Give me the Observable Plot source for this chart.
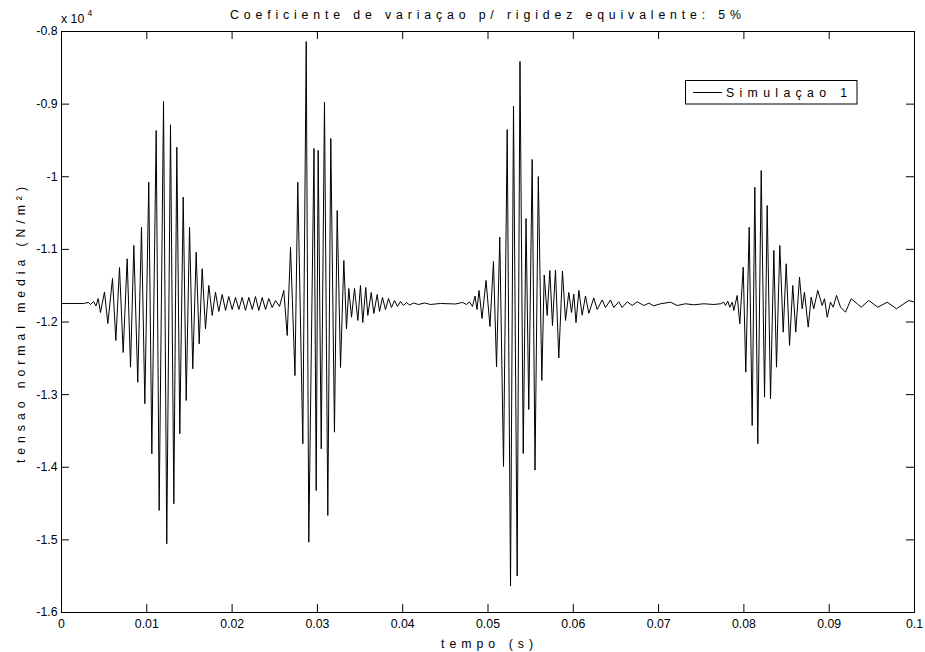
<!DOCTYPE html>
<html>
<head>
<meta charset="utf-8">
<script src="https://cdn.jsdelivr.net/npm/d3@7"></script>
<script src="https://cdn.jsdelivr.net/npm/@observablehq/plot@0.6"></script>
<style>
  html, body { margin: 0; padding: 0; background: white; }
  #chart { width: 925px; height: 652px; }
</style>
</head>
<body>
<div id="chart"></div>
<script>
// ---- axis ticks ----
const xTicks = [0, 0.01, 0.02, 0.03, 0.04, 0.05, 0.06, 0.07, 0.08, 0.09, 0.1];
const yTicks = [-1.6, -1.5, -1.4, -1.3, -1.2, -1.1, -1, -0.9, -0.8];

// ---- texts ----
const titleText = "Coeficiente de variaçao p/ rigidez equivalente: 5%";
const xLabel = "tempo (s)";
const yLabel = "tensao normal media (N/m²)";
const seriesName = "Simulaçao 1";

// ---- series "Simulaçao 1": time (s) and stress (x 10^4 N/m²), segment by segment ----
const burst1Time = [0, 0.00258, 0.00317, 0.00340, 0.00375, 0.00404, 0.00430, 0.00457, 0.00504, 0.00543,
  0.00598, 0.00637, 0.00680, 0.00723, 0.00770, 0.00809, 0.00848, 0.00894, 0.00938, 0.00977,
  0.01023, 0.01059, 0.01110, 0.01145, 0.01196, 0.01234, 0.01278, 0.01317, 0.01352, 0.01387,
  0.01427, 0.01462, 0.01501, 0.01539, 0.01579, 0.01614, 0.01649, 0.01688, 0.01727, 0.01767, 0.01805];
const burst1Stress = [-1.1745, -1.1745, -1.1731, -1.1759, -1.1718, -1.1780, -1.1676, -1.1869, -1.1587, -1.2021,
  -1.1401, -1.2255, -1.1250, -1.2420, -1.1130, -1.2622, -1.0947, -1.2829, -1.0695, -1.3126,
  -1.0075, -1.3815, -0.9363, -1.4595, -0.8964, -1.5054, -0.9285, -1.4503, -0.9593, -1.3539,
  -1.0282, -1.3081, -1.0695, -1.2644, -1.1039, -1.2300, -1.1267, -1.2094, -1.1497, -1.1910, -1.1590];

const quiet1Time = [0.01844, 0.01884, 0.01923, 0.01961, 0.02001, 0.02040, 0.02079, 0.02118, 0.02157, 0.02196,
  0.02236, 0.02274, 0.02313, 0.02353, 0.02392, 0.02430, 0.02470, 0.02509, 0.02556];
const quiet1Stress = [-1.1855, -1.1621, -1.1841, -1.1649, -1.1828, -1.1662, -1.1828, -1.1662, -1.1841, -1.1662,
  -1.1828, -1.1649, -1.1841, -1.1662, -1.1828, -1.1676, -1.1800, -1.1704, -1.1786];

const burst2Time = [0.02606, 0.02646, 0.02685, 0.02737, 0.02770, 0.02829, 0.02869, 0.02899, 0.02960, 0.02986,
  0.03009, 0.03045, 0.03083, 0.03122, 0.03157, 0.03200, 0.03232, 0.03271, 0.03310, 0.03341];
const burst2Stress = [-1.1566, -1.2186, -1.0970, -1.2737, -1.0075, -1.3677, -0.8138, -1.5032, -0.9611, -1.4320,
  -0.9638, -1.3746, -0.8973, -1.4664, -0.9473, -1.3517, -1.0465, -1.2626, -1.1153, -1.2094];

const quiet2Time = [0.03368, 0.03400, 0.03435, 0.03474, 0.03505, 0.03532, 0.03567, 0.03591, 0.03631, 0.03661,
  0.03701, 0.03728, 0.03763, 0.03798, 0.03834, 0.03869, 0.03904, 0.03939, 0.03974, 0.04009,
  0.04045, 0.04080, 0.04127, 0.04185, 0.04256, 0.04326, 0.04443, 0.04619, 0.04701];
const quiet2Stress = [-1.1539, -1.1934, -1.1539, -1.1979, -1.1497, -1.2007, -1.1525, -1.1910, -1.1594, -1.1883,
  -1.1621, -1.1855, -1.1662, -1.1828, -1.1676, -1.1800, -1.1704, -1.1786, -1.1718, -1.1773,
  -1.1731, -1.1766, -1.1738, -1.1759, -1.1738, -1.1759, -1.1745, -1.1752, -1.1731];

const burst3Time = [0.04748, 0.04783, 0.04818, 0.04848, 0.04871, 0.04895, 0.04930, 0.04977, 0.05023, 0.05064,
  0.05100, 0.05138, 0.05182, 0.05225, 0.05264, 0.05299, 0.05342, 0.05375, 0.05413, 0.05446,
  0.05478, 0.05518, 0.05551, 0.05590, 0.05631, 0.05659, 0.05694, 0.05725, 0.05756, 0.05791,
  0.05830, 0.05873, 0.05909, 0.05947];
const burst3Stress = [-1.1759, -1.1724, -1.1786, -1.1642, -1.1828, -1.1566, -1.1952, -1.1428, -1.2062, -1.1167,
  -1.2620, -1.0830, -1.3990, -0.9349, -1.5635, -0.9026, -1.5497, -0.8413, -1.3811, -1.0575,
  -1.3205, -0.9762, -1.4039, -0.9997, -1.2805, -1.1353, -1.1910, -1.1291, -1.2048, -1.1284,
  -1.2496, -1.1298, -1.1979, -1.1594];

const quiet3Time = [0.05979, 0.06006, 0.06032, 0.06065, 0.06104, 0.06143, 0.06182, 0.06240, 0.06280, 0.06339,
  0.06378, 0.06436, 0.06475, 0.06533, 0.06573, 0.06632, 0.06690, 0.06749,
  0.06827, 0.06885, 0.06944, 0.07022, 0.07140, 0.07218, 0.07315, 0.07413, 0.07530, 0.07647, 0.07726];
const quiet3Stress = [-1.1869, -1.1616, -1.2007, -1.1566, -1.1906, -1.1642, -1.1880, -1.1669, -1.1828, -1.1696,
  -1.1800, -1.1696, -1.1800, -1.1722, -1.1800, -1.1722, -1.1773, -1.1722,
  -1.1773, -1.1741, -1.1777, -1.1749, -1.1727, -1.1773, -1.1749, -1.1763, -1.1749, -1.1759, -1.1749];

const burst4Time = [0.07764, 0.07784, 0.07811, 0.07835, 0.07863, 0.07882, 0.07921, 0.07952, 0.07992, 0.08022,
  0.08062, 0.08097, 0.08128, 0.08163, 0.08203, 0.08242, 0.08273, 0.08312, 0.08351, 0.08382,
  0.08421, 0.08461, 0.08496, 0.08535, 0.08573, 0.08608, 0.08652, 0.08683, 0.08710, 0.08754,
  0.08789, 0.08819, 0.08866, 0.08918, 0.08945, 0.08977, 0.09015, 0.09047, 0.09086, 0.09133,
  0.09191, 0.09258, 0.09328, 0.09375, 0.09464, 0.09570, 0.09680, 0.09789, 0.09875, 0.09933, 0.1];
const burst4Stress = [-1.1727, -1.1773, -1.1714, -1.1796, -1.1727, -1.1841, -1.1635, -1.2025, -1.1245, -1.2691,
  -1.0695, -1.3425, -1.0144, -1.3677, -0.9914, -1.3035, -1.0396, -1.3057, -1.1015, -1.2622,
  -1.0947, -1.2140, -1.1199, -1.2323, -1.1497, -1.2140, -1.1383, -1.1818, -1.1590, -1.2071,
  -1.1658, -1.1818, -1.1566, -1.1773, -1.1680, -1.1934, -1.1727, -1.1796, -1.1635, -1.1796,
  -1.1865, -1.1680, -1.1749, -1.1796, -1.1704, -1.1796, -1.1727, -1.1818, -1.1749, -1.1704, -1.1727];

// ---- assemble table ----
const segments = [
  [burst1Time, burst1Stress], [quiet1Time, quiet1Stress],
  [burst2Time, burst2Stress], [quiet2Time, quiet2Stress],
  [burst3Time, burst3Stress], [quiet3Time, quiet3Stress],
  [burst4Time, burst4Stress]
];
const series = [];
for (const [ts, vs] of segments) {
  const n = Math.min(ts.length, vs.length);
  for (let i = 0; i < n; i++) series.push({t: ts[i], v: vs[i]});
}

const W = 925, H = 652;
const mL = 61, mR = 11, mT = 31, mB = 40;
const innerW = W - mL - mR, innerH = H - mT - mB;
const tickLen = 8;
const font = "'Liberation Sans', Arial, Helvetica, sans-serif";

const fmtX = d => String(+d.toFixed(2));
const fmtY = d => String(+d.toFixed(1));

const svg = Plot.plot({
  width: W,
  height: H,
  marginLeft: mL, marginRight: mR, marginTop: mT, marginBottom: mB,
  style: {fontFamily: font, fontSize: "12.3px", background: "white", color: "black", overflow: "visible"},
  x: {domain: [0, 0.1], axis: null},
  y: {domain: [-1.6, -0.8], axis: null},
  marks: [
    Plot.axisX(xTicks, {anchor: "bottom", tickSize: 0, tickPadding: 7, tickFormat: fmtX, label: null, fill: "black"}),
    Plot.axisY(yTicks, {anchor: "left", tickSize: 0, tickPadding: 4, tickFormat: fmtY, label: null, fill: "black"}),
    Plot.tickX(xTicks, {x: d => d, insetTop: innerH - tickLen, stroke: "black", strokeWidth: 1}),
    Plot.tickX(xTicks, {x: d => d, insetBottom: innerH - tickLen, stroke: "black", strokeWidth: 1}),
    Plot.tickY(yTicks, {y: d => d, insetRight: innerW - tickLen, stroke: "black", strokeWidth: 1}),
    Plot.tickY(yTicks, {y: d => d, insetLeft: innerW - tickLen, stroke: "black", strokeWidth: 1}),
    Plot.line(series, {x: "t", y: "v", stroke: "black", strokeWidth: 1}),
    Plot.frame({stroke: "black", strokeWidth: 1})
  ]
});

const s = d3.select(svg);
const g = s.append("g")
  .attr("font-family", font)
  .attr("fill", "black")
  .attr("text-anchor", "start")
  .style("text-anchor", "start");

// title
g.append("text")
  .attr("x", 230).attr("y", 19)
  .attr("text-anchor", "start")
  .attr("font-size", "12.3px")
  .attr("textLength", 511).attr("lengthAdjust", "spacing")
  .text(titleText);

// x label
g.append("text")
  .attr("x", 441).attr("y", 648)
  .attr("text-anchor", "start")
  .attr("font-size", "12.3px")
  .attr("textLength", 92).attr("lengthAdjust", "spacing")
  .text(xLabel);

// y label
g.append("text")
  .attr("transform", "translate(25,463) rotate(-90)")
  .attr("text-anchor", "start")
  .attr("font-size", "12.3px")
  .attr("textLength", 276).attr("lengthAdjust", "spacing")
  .text(yLabel);

// exponent
g.append("text").attr("x", 61).attr("y", 23).attr("text-anchor", "start")
  .attr("font-size", "12.3px").text("x 10");
g.append("text").attr("x", 87.5).attr("y", 16).attr("text-anchor", "start")
  .attr("font-size", "8.5px").text("4");

// legend
const leg = g.append("g");
leg.append("rect")
  .attr("x", 685.5).attr("y", 80.5).attr("width", 171.5).attr("height", 23.5)
  .attr("fill", "white").attr("stroke", "black").attr("stroke-width", 1);
leg.append("line")
  .attr("x1", 693).attr("x2", 722).attr("y1", 92.5).attr("y2", 92.5)
  .attr("stroke", "black").attr("stroke-width", 1);
leg.append("text")
  .attr("x", 726).attr("y", 96.5)
  .attr("text-anchor", "start")
  .attr("font-size", "12.3px")
  .attr("textLength", 121).attr("lengthAdjust", "spacing")
  .text(seriesName);

document.getElementById("chart").appendChild(svg);
</script>
</body>
</html>
